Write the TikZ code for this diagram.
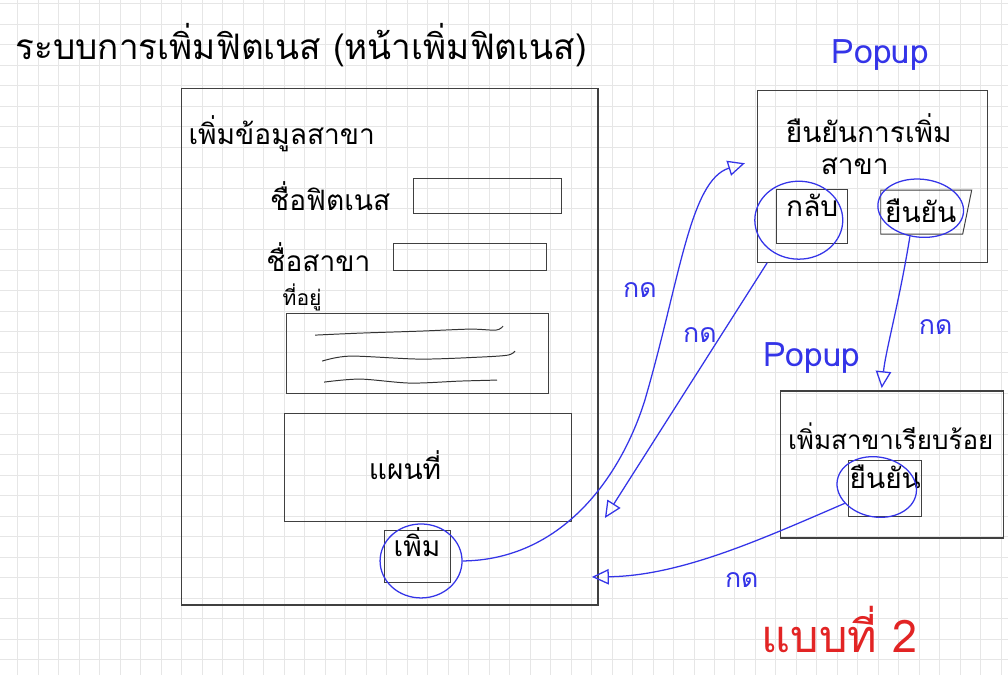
\documentclass[tikz,border=0pt]{standalone}
\usepackage{fontspec}
\setmainfont[Script=Thai]{Loma}
\usetikzlibrary{positioning,fit,shapes.geometric,arrows.meta}
\definecolor{pen_blue}{RGB}{52,52,232}
\definecolor{pen_red}{RGB}{226,36,36}
\definecolor{grid_gray}{RGB}{230,230,230}

\begin{document}
\begin{tikzpicture}[
x=0.025cm, y=-0.025cm,
frame/.style={rectangle, draw=black!75, line width=0.9pt, inner sep=0pt},
fieldbox/.style={rectangle, draw=black!75, line width=0.7pt, inner sep=0pt},
handtext/.style={inner sep=0pt, font=\fontsize{20}{24}\selectfont},
pen_oval/.style={ellipse, draw=pen_blue, line width=0.9pt, inner sep=0pt},
pen_note/.style={inner sep=0pt, text=pen_blue, font=\fontsize{19}{22}\selectfont},
pen_arrow/.style={draw=pen_blue, line width=0.9pt, -{Triangle[open, length=12pt, width=11pt]}},
scribble/.style={draw=black!80, line width=0.7pt},
]
%Paper
\fill[white] (0,0) rectangle (1008,675);
\foreach \gx in {0,...,48} \draw[grid_gray, line width=0.5pt] (17.5+20.5*\gx,0) -- ++(0,675);
\foreach \gy in {0,...,32} \draw[grid_gray, line width=0.5pt] (0,3.5+20.5*\gy) -- ++(1008,0);

%Nodes
\node[handtext, anchor=west, font=\fontsize{25}{29}\selectfont] (title) at (15,45) {ระบบการเพิ่มฟิตเนส (หน้าเพิ่มฟิตเนส)};

% add page
\node[frame, fit={(181,88) (598,605)}]          (add_page)   {};
\node[handtext, anchor=west] (page_head)  at (188,133)  {เพิ่มข้อมูลสาขา};
\node[fieldbox, fit={(413,178) (562,213)}]     (name_box)   {};
\node[handtext]  (name_label)     [left=0.55cm of name_box]   {ชื่อฟิตเนส};
\node[fieldbox, fit={(393,243) (547,270)}]     (branch_box) {};
\node[handtext]  (branch_label)   [left=0.55cm of branch_box] {ชื่อสาขา};
\node[handtext, font=\fontsize{15}{18}\selectfont] (address_label) at (302,297) {ที่อยู่};
\node[fieldbox, fit={(286,313) (549,393)}]     (address_box) {};
\node[fieldbox, fit={(284,413) (572,522)}]     (map_box)    {};
\node[handtext]  (map_text)       at (405,465)     {แผนที่};
\node[fieldbox, fit={(384,531) (450,583)}, handtext] (add_button) {เพิ่ม};
\node[pen_oval, minimum width=2.05cm, minimum height=1.85cm] (add_mark) at (421,561) {};

% popup confirm
\node[pen_note, font=\fontsize{24}{28}\selectfont] (popup_one) at (881,55) {Popup};
\node[frame, fit={(758,90) (988,262)}]         (confirm_popup) {};
\node[handtext]  (confirm_head)   at (869,128)     {ยืนยันการเพิ่ม};
\node[handtext]  (confirm_branch) at (855,166)     {สาขา};
\node[fieldbox, fit={(777,189) (848,243)}, handtext] (back_button) {กลับ};
\node[pen_oval, minimum width=2.2cm, minimum height=1.95cm] (back_mark) at (799,220) {};
\draw[fieldbox] (881,190) -- (972,190) -- (963,234) -- (881,234) -- cycle;
\node[handtext]  (confirm_button) at (921,211)     {ยืนยัน};
\node[pen_oval, minimum width=2.15cm, minimum height=1.45cm, rotate=-6] (confirm_mark) at (921,208) {};

% popup done
\node[pen_note, font=\fontsize{24}{28}\selectfont] (popup_two) at (812,358) {Popup};
\node[frame, fit={(781,391) (1004,538)}]       (done_popup) {};
\node[handtext, font=\fontsize{18.5}{22}\selectfont] (done_head) at (891,436) {เพิ่มสาขาเรียบร้อย};
\node[fieldbox, fit={(849,460) (922,517)}, handtext] (ok_button) {ยืนยัน};
\node[pen_oval, minimum width=2.0cm, minimum height=1.5cm, rotate=-10] (done_mark) at (877,487) {};

\node[handtext, text=pen_red, font=\fontsize{32}{36}\selectfont] (style_two) at (840,630) {แบบที่ 2};

%Lines
\draw[scribble] plot[smooth] coordinates {(315,335) (360,333) (420,331) (470,329) (496,330) (503,326)};
\draw[scribble] plot[smooth] coordinates {(322,361) (350,356) (420,359) (480,357) (508,355) (515,351)};
\draw[scribble] plot[smooth] coordinates {(324,382) (360,379) (410,383) (460,381) (497,380)};

\coordinate (confirm_tip)  at (745,163);
\coordinate (page_tip_one) at (605,518);
\coordinate (done_tip)     at (882,388);
\coordinate (page_tip_two) at (592,577);

\draw[pen_arrow] (add_mark.east) .. controls (560,560) and (620,480) .. (645,400)
  .. controls (680,280) and (690,180) .. (confirm_tip);
\draw[pen_arrow] ([xshift=0.25cm]confirm_popup.south west) -- (page_tip_one);
\draw[pen_arrow] (confirm_mark.-105) .. controls (900,300) and (886,350) .. (done_tip);
\draw[pen_arrow] (done_mark.south west) .. controls (760,540) and (680,576) .. (page_tip_two);

\node[pen_note] (press_one)   at (640,290) {กด};
\node[pen_note] (press_two)   at (700,335) {กด};
\node[pen_note] (press_three) at (936,327) {กด};
\node[pen_note] (press_four)  at (742,580) {กด};
\end{tikzpicture}
\end{document}
